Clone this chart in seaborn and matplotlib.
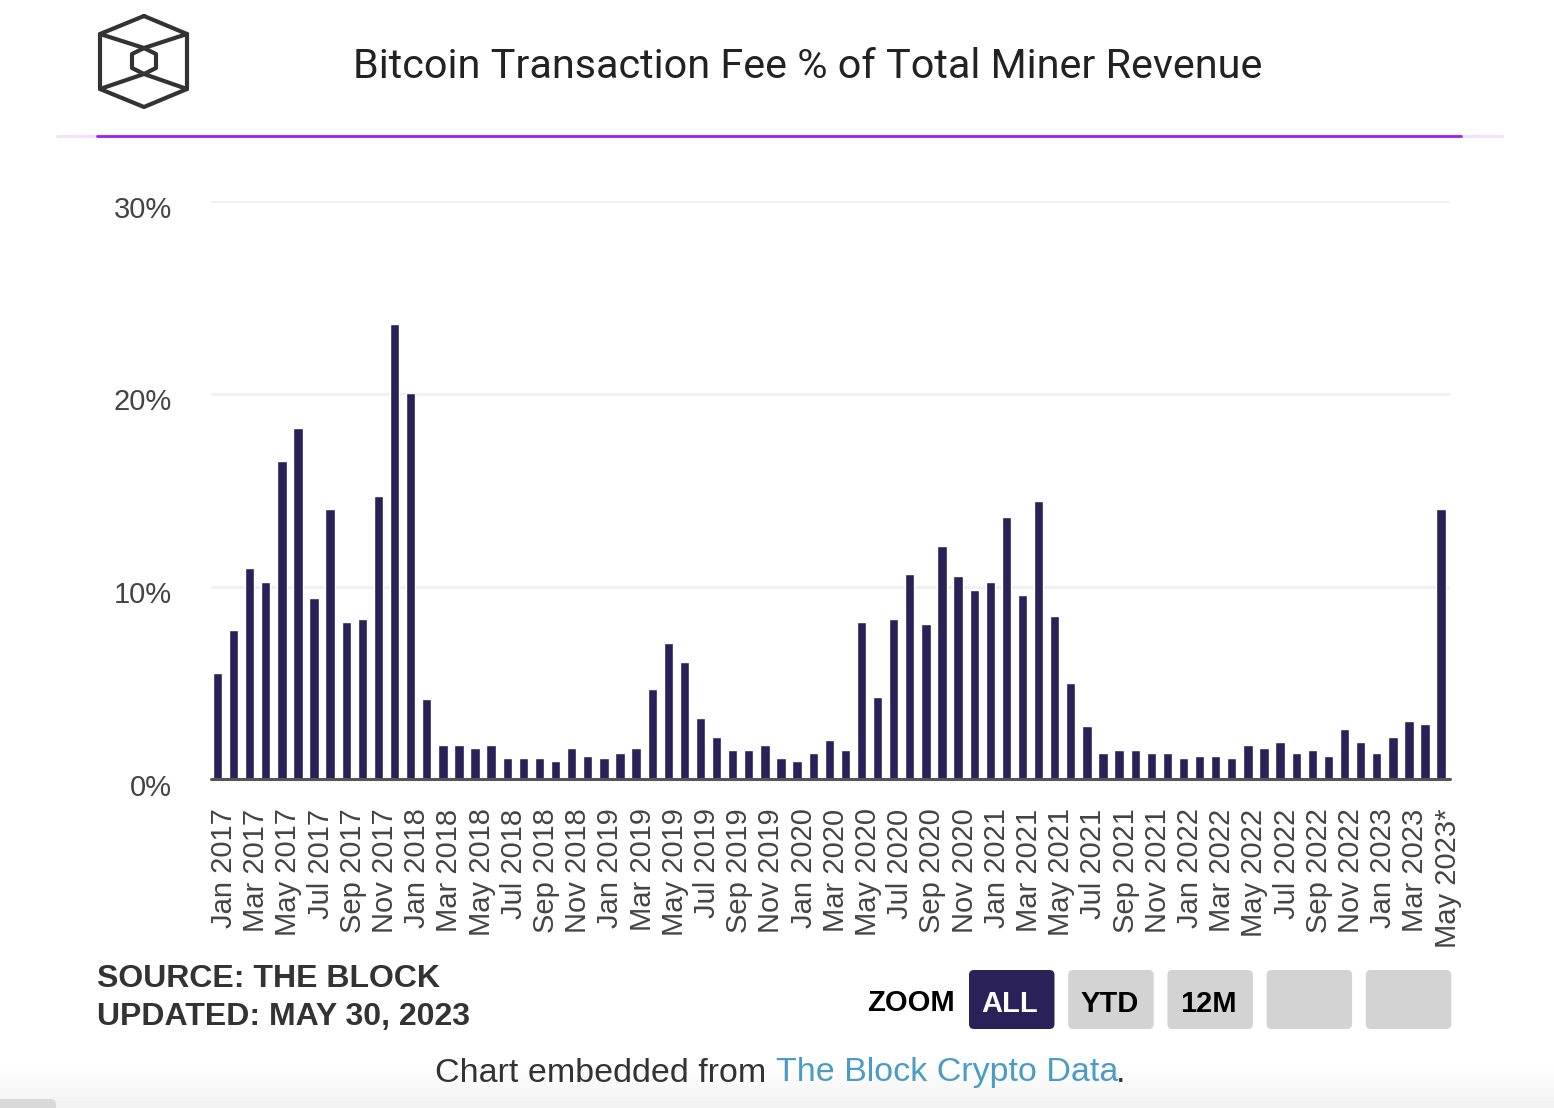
import numpy as np
import pandas as pd
import seaborn as sns
import matplotlib.pyplot as plt
from matplotlib.patches import FancyBboxPatch
from matplotlib.transforms import ScaledTranslation

months = pd.date_range('2017-01-01', '2023-05-01', freq='MS').strftime('%b %Y').tolist()
fee_pct = [5.54, 7.77, 10.97, 10.26, 16.52, 18.20, 9.43, 14.03, 8.18, 8.32, 14.72, 23.63,
           20.02, 4.15, 1.78, 1.78, 1.64, 1.78, 1.09, 1.09, 1.09, 0.95, 1.64, 1.23,
           1.09, 1.37, 1.64, 4.71, 7.08, 6.11, 3.18, 2.20, 1.51, 1.51, 1.78, 1.09,
           0.95, 1.37, 2.06, 1.51, 8.18, 4.29, 8.32, 10.67, 8.04, 12.08, 10.54, 9.84,
           10.26, 13.60, 9.57, 14.45, 8.46, 4.98, 2.77, 1.37, 1.51, 1.51, 1.37, 1.37,
           1.09, 1.23, 1.23, 1.09, 1.78, 1.64, 1.92, 1.37, 1.51, 1.23, 2.61, 1.92,
           1.37, 2.20, 3.04, 2.89, 14.01]
x_labels = [m for m in months[::2]]
x_labels[-1] = 'May 2023*'
y_ticks = [0, 10, 20, 30]
y_labels = ['0%', '10%', '20%', '30%']

title = 'Bitcoin Transaction Fee % of Total Miner Revenue'
buttons = ['ALL', 'YTD', '12M', '', '']

W, H = 1554, 1108
DARK = '#2A2159'
FONT = ['Liberation Sans', 'DejaVu Sans']

sns.set_theme(style='white')
plt.rcParams['font.family'] = FONT

fig = plt.figure(figsize=(W / 100, H / 100), dpi=100, facecolor='white')

# page layer in pixel coords: logo, rule, buttons, footer
page = fig.add_axes([0, 0, 1, 1], zorder=0)
page.axis('off')

shade = np.linspace(1, 0.95, 48).reshape(-1, 1)
page.imshow(shade, extent=(0, W, H, H - 48), cmap='gray', vmin=0, vmax=1, aspect='auto', zorder=0)
page.set_xlim(0, W)
page.set_ylim(H, 0)
page.add_patch(FancyBboxPatch((-10, 1099), 66, 20, boxstyle='round,pad=0,rounding_size=6',
                              fc='#D9D9D9', ec='none', zorder=1))

# logo
logo_kw = dict(color='#333333', lw=3, solid_joinstyle='round', solid_capstyle='round', zorder=2)
outer = [(144, 16), (187, 34), (187, 89), (144, 107), (100, 89), (100, 34), (144, 16)]
inner = [(144, 48), (156, 54), (156, 68), (144, 74), (132, 68), (132, 54), (144, 48)]
page.plot(*zip(*outer), **logo_kw)
page.plot(*zip(*inner), **logo_kw)
page.plot([100, 144, 187], [34, 48, 34], **logo_kw)
page.plot([100, 144, 187], [89, 74, 89], **logo_kw)

page.text(808, 66, title, ha='center', va='center', fontsize=29.8, color='#222222', family=['Roboto', 'DejaVu Sans'])

page.plot([57, 1502], [136, 136], color='#F3E2FD', lw=2.2, zorder=2)
page.plot([97, 1461], [136, 136], color='#9A22EE', lw=2, zorder=3)

page.text(97, 979, 'SOURCE: THE BLOCK', fontsize=23, fontweight='bold', color='#333333', va='center')
page.text(97, 1017, 'UPDATED: MAY 30, 2023', fontsize=23, fontweight='bold', color='#333333', va='center')
page.text(911, 1003, 'ZOOM', fontsize=21, fontweight='bold', color='black', ha='center', va='center')

for i, lab in enumerate(buttons):
    x0 = 969 + i * 99.2
    active = lab == 'ALL'
    page.add_patch(FancyBboxPatch((x0, 970), 85.5, 59, boxstyle='round,pad=0,rounding_size=5',
                                  fc=DARK if active else '#D3D3D3', ec='none', zorder=2))
    page.text(x0 + 41, 1004, lab, fontsize=21, fontweight='bold', ha='center', va='center',
              color='white' if active else 'black', zorder=3)

page.text(435, 1073, 'Chart embedded from ', fontsize=24.5, color='#333333', va='center')
page.text(776, 1073, 'The Block Crypto Data', fontsize=24.5, color='#4A9CC7', va='center')
page.text(1116, 1073, '.', fontsize=24.5, color='#333333', va='center')

# chart layer
ax = fig.add_axes([211 / W, 1 - 779.3 / H, (1450 - 211) / W, (779.3 - 201) / H], zorder=1)
ax.patch.set_alpha(0)
df = pd.DataFrame({'month': months, 'fee': fee_pct})
sns.barplot(data=df, x='month', y='fee', color=DARK, saturation=1, width=0.58, ax=ax, zorder=3)

ax.set_xlim(-0.4, 76.55)
ax.set_ylim(0, 30)
ax.set_xlabel('')
ax.set_ylabel('')
ax.set_yticks(y_ticks)
ax.set_yticklabels(y_labels, fontsize=21, color='#444444')
ax.set_xticks(range(0, len(months), 2))
ax.set_xticklabels(x_labels, rotation=90, fontsize=21, color='#444444')
ax.tick_params(axis='both', length=0)
ax.tick_params(axis='x', pad=21)
ax.tick_params(axis='y', pad=28)
ax.grid(axis='y', color='#F1F1F1', lw=2.2, zorder=0)
ax.set_axisbelow(True)
sns.despine(ax=ax, left=True, bottom=True, top=True, right=True)
ax.axhline(0, color='#555555', lw=2.2, zorder=4, clip_on=False)

y_shift = ScaledTranslation(0, -5.5 / 100, fig.dpi_scale_trans)
for lab in ax.get_yticklabels():
    lab.set_transform(lab.get_transform() + y_shift)
x_shift = ScaledTranslation(6.5 / 100, 0, fig.dpi_scale_trans)
for lab in ax.get_xticklabels():
    lab.set_transform(lab.get_transform() + x_shift)

fig.savefig('out.png', dpi=100)
